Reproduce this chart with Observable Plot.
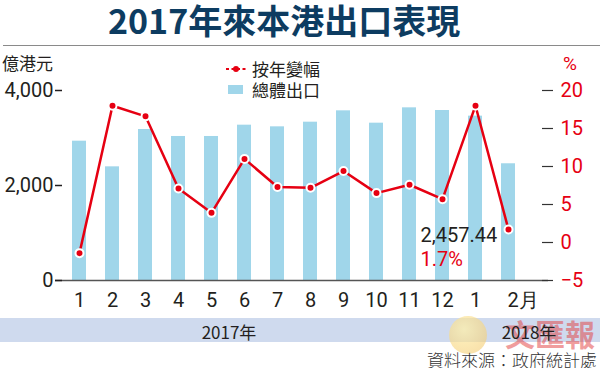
<!DOCTYPE html>
<html>
<head>
<meta charset="utf-8">
<script src="https://cdn.jsdelivr.net/npm/d3@7"></script>
<script src="https://cdn.jsdelivr.net/npm/@observablehq/plot@0.6"></script>
<style>
  html, body { margin: 0; padding: 0; background: #fff; }
  #wrap { position: relative; width: 600px; height: 368px; overflow: hidden; font-family: "Noto Sans CJK TC", Roboto, sans-serif; }
  .abs { position: absolute; white-space: nowrap; line-height: 1; }
  #chart { position: absolute; left: 0; top: 0; }
</style>
</head>
<body>
<div id="wrap">
  <div class="abs" style="left:0;top:318px;width:600px;height:24px;background:#cfdaee;"></div>
  <div class="abs" style="left:229px;top:323px;transform:translateX(-50%);font-size:17px;color:#231f20;">2017年</div>
  <div class="abs" style="left:449px;top:316px;width:38px;height:38px;border-radius:50%;background:radial-gradient(circle at 40% 35%, rgba(255,240,170,0.75), rgba(240,190,90,0.55));"></div>
  <div class="abs" style="left:505px;top:318px;font-size:30px;font-weight:700;color:rgba(225,60,60,0.5);font-family:'Noto Sans CJK TC',serif;">文匯報</div>
  <div class="abs" style="left:529px;top:323px;transform:translateX(-50%);font-size:17px;color:#231f20;">2018年</div>
  <div id="chart"></div>
  <div class="abs" style="left:108px;top:3px;font-size:34px;font-weight:700;color:#0d3c61;">2017年來本港出口表現</div>
  <div class="abs" style="left:3px;top:45px;width:597px;height:1px;background:#8a8a8a;"></div>
  <div class="abs" style="left:2px;top:54px;font-size:17px;color:#231f20;">億港元</div>
  <div class="abs" style="left:563px;top:54px;font-size:19px;color:#e60012;font-family:Roboto,sans-serif;">%</div>
  <svg class="abs" style="left:224px;top:62px;" width="26" height="36">
    <line x1="2" y1="7" x2="22" y2="7" stroke="#e60012" stroke-width="2" stroke-dasharray="3,2.5"/>
    <circle cx="12" cy="7" r="3" fill="#e60012"/>
    <rect x="4" y="23" width="15" height="9" fill="#a0d6ea"/>
  </svg>
  <div class="abs" style="left:252px;top:60px;font-size:17px;color:#231f20;">按年變幅</div>
  <div class="abs" style="left:252px;top:81px;font-size:17px;color:#231f20;">總體出口</div>
  <div class="abs" style="right:3px;top:351px;font-size:17px;font-weight:300;color:#333;">資料來源：政府統計處</div>
</div>
<script>
// Month labels (2017 Jan – 2018 Feb)
const monthLabels = ["1","2","3","4","5","6","7","8","9","10","11","12","1","2月"];
// Total exports (HK$ 100 million)
const exportsValues = [2933, 2393, 3179, 3032, 3032, 3270, 3235, 3333, 3572, 3312, 3635, 3579, 3460, 2457.44];
// Year-on-year change (%)
const yoyValues = [-1.4, 18.0, 16.6, 7.1, 3.9, 11.0, 7.3, 7.2, 9.4, 6.5, 7.6, 5.7, 18.0, 1.7];
// Axis ticks
const leftTicks = [0, 2000, 4000];
const rightTicks = [-5, 0, 5, 10, 15, 20];

const RED = "#e60012";
const DARK = "#231f20";
// right axis [-5, 20] shares the frame with left axis [0, 4000]
const toLeft = v => (v + 5) * 160;
const fromLeft = v => v / 160 - 5;

const data = monthLabels.map((m, i) => ({i, label: m, exports: exportsValues[i], yoy: yoyValues[i]}));
const last = data[data.length - 1];

const chart = Plot.plot({
  width: 600,
  height: 368,
  marginTop: 90,
  marginBottom: 88,
  marginLeft: 48,
  marginRight: 62,
  style: {fontFamily: "Roboto, sans-serif", background: "transparent", overflow: "visible"},
  x: {type: "band", domain: d3.range(monthLabels.length), paddingInner: 0.588, paddingOuter: 0.5, label: null},
  y: {domain: [0, 4000], label: null},
  marks: [
    Plot.barY(data, {x: "i", y: "exports", fill: "#a0d6ea"}),
    Plot.ruleY([0], {stroke: "#555", strokeWidth: 1.5, insetLeft: 7, insetRight: -10}),
    Plot.axisY(leftTicks, {anchor: "left", label: null, tickFormat: d3.format(","), tickSize: 7, tickPadding: 2, dx: 14,
      fontSize: 20, stroke: DARK, fill: DARK, strokeWidth: 1.5}),
    Plot.axisY(rightTicks.map(toLeft), {anchor: "right", label: null, tickFormat: v => { const t = Math.round(fromLeft(v)); return t < 0 ? "−" + (-t) : String(t); },
      tickSize: 11, tickPadding: 8, dx: 3, fontSize: 20, stroke: "#333", fill: RED, strokeWidth: 1.2}),
    Plot.axisX(d3.range(monthLabels.length - 1), {anchor: "bottom", label: null, tickFormat: i => monthLabels[i], tickSize: 0, tickPadding: 12,
      fontSize: 20, fill: DARK}),
    Plot.text([last], {x: "i", text: "label", frameAnchor: "bottom", lineAnchor: "top", textAnchor: "start", dx: -1, dy: 12,
      fontSize: 20, fill: DARK}),
    Plot.line(data, {x: "i", y: d => toLeft(d.yoy), stroke: RED, strokeWidth: 2.5}),
    Plot.dot(data, {x: "i", y: d => toLeft(d.yoy), r: 4, fill: RED, stroke: "white", strokeWidth: 2}),
    Plot.text([last], {x: "i", y: d => toLeft(d.yoy), text: d => d3.format(",.2f")(d.exports), textAnchor: "start", dx: -88, dy: 6,
      fontSize: 20, fill: DARK}),
    Plot.text([last], {x: "i", y: d => toLeft(d.yoy), text: d => d.yoy + "%", textAnchor: "start", dx: -88, dy: 30,
      fontSize: 20, fill: RED})
  ]
});
document.getElementById("chart").appendChild(chart);
</script>
</body>
</html>
